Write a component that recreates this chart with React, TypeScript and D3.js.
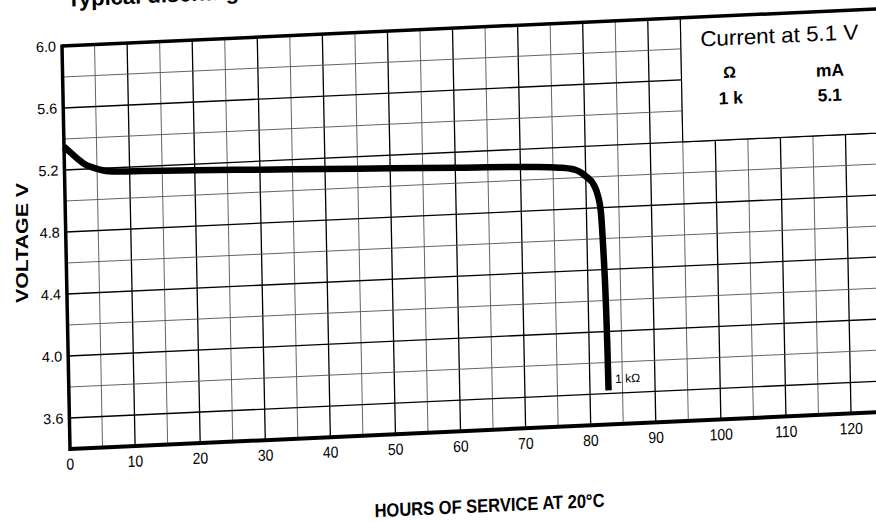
import React from "react";
import * as d3 from "d3";

// 1 kΩ discharge curve
const hours = [0, 1, 2, 3, 4.5, 6, 8, 12, 20, 30, 40, 50, 60, 70, 76, 78.5, 80.2, 81.2, 81.8, 82.2, 82.5, 82.7, 82.8, 82.85];
const volts = [5.35, 5.31, 5.27, 5.235, 5.205, 5.185, 5.175, 5.17, 5.16, 5.145, 5.13, 5.115, 5.1, 5.085, 5.07, 5.05, 5.0, 4.95, 4.88, 4.78, 4.5, 4.2, 3.9, 3.62];

const xTicks = [0, 10, 20, 30, 40, 50, 60, 70, 80, 90, 100, 110, 120];
const yTicks = ["6.0", "5.6", "5.2", "4.8", "4.4", "4.0", "3.6"];
const xGrid = d3.range(5, 130, 5);
const yGrid = d3.range(3.6, 6.0, 0.2).map((v) => +v.toFixed(1));

const legendTitle = "Current at 5.1 V";
const legendHead = ["Ω", "mA"];
const legendRow = ["1 k", "5.1"];
const curveLabel = "1 kΩ";

const font = "'Liberation Sans', Arial, Helvetica, sans-serif";

export default function App() {
  const W = 876, H = 522;
  // plot drawn flat, then skewed/rotated like the scanned page
  const x = d3.scaleLinear().domain([0, 120]).range([0, 781]);
  const y = d3.scaleLinear().domain([3.4, 6.0]).range([403, 0]);
  const xMax = x(130);

  const line = d3.line<number>()
    .x((d, i) => x(hours[i]))
    .y((d) => y(d))
    .curve(d3.curveMonotoneX);

  const isMajorY = (v: number) => Math.abs(((v - 3.6) / 0.4) - Math.round((v - 3.6) / 0.4)) < 1e-6;

  return (
    <svg width={W} height={H} style={{ position: "absolute", left: 0, top: 0, background: "#fff" }} fontFamily={font}>
      <g transform="matrix(1,-0.0455,0.0199,1,62,46)">
        <text x={6} y={-39} fontSize={22} fontWeight="bold">Typical discharge characteristics</text>

        {xGrid.map((h) => (
          <line key={"vx" + h} x1={x(h)} x2={x(h)} y1={0} y2={y(3.4)}
            stroke={h % 10 === 0 ? "#000" : "#555"} strokeWidth={h % 10 === 0 ? 1.3 : 0.9} />
        ))}
        {yGrid.map((v) => (
          <line key={"hy" + v} x1={0} x2={xMax} y1={y(v)} y2={y(v)}
            stroke={isMajorY(v) ? "#000" : "#555"} strokeWidth={isMajorY(v) ? 1.3 : 0.9} />
        ))}

        <rect x={x(95)} y={y(6.0)} width={xMax - x(95)} height={y(5.2) - y(6.0)} fill="#fff" stroke="#000" strokeWidth={1.2} />
        <text x={x(98)} y={y(5.81)} fontSize={21.5} textLength={158} lengthAdjust="spacingAndGlyphs">{legendTitle}</text>
        <text x={x(102.4)} y={y(5.6)} fontSize={16} fontWeight="bold" textAnchor="middle">{legendHead[0]}</text>
        <text x={x(117.8)} y={y(5.58)} fontSize={17.5} fontWeight="bold" textAnchor="middle">{legendHead[1]}</text>
        <text x={x(102.5)} y={y(5.43)} fontSize={17.5} fontWeight="bold" textAnchor="middle">{legendRow[0]}</text>
        <text x={x(117.7)} y={y(5.42)} fontSize={17.5} fontWeight="bold" textAnchor="middle">{legendRow[1]}</text>

        <line x1={0} x2={xMax} y1={0} y2={0} stroke="#000" strokeWidth={3.5} />
        <line x1={0} x2={xMax} y1={y(3.4)} y2={y(3.4)} stroke="#000" strokeWidth={4} />
        <line x1={0} x2={0} y1={-1.5} y2={y(3.4) + 2} stroke="#000" strokeWidth={3.5} />

        <path d={line(volts) || ""} fill="none" stroke="#000" strokeWidth={6.5} />
        <text x={x(83.9)} y={y(3.666)} fontSize={12}>{curveLabel}</text>

        {yTicks.map((t) => (
          <text key={"yt" + t} x={-6} y={y(+t)} dy="0.35em" fontSize={14.5} textAnchor="end">{t}</text>
        ))}
        {xTicks.map((t) => (
          <text key={"xt" + t} transform={`translate(${x(t)},${y(3.4) + 15}) scale(0.87,1)`} dy="0.35em" fontSize={16} textAnchor="middle">{t}</text>
        ))}

        <text x={303} y={485} fontSize={19} fontWeight="bold" textLength={230} lengthAdjust="spacingAndGlyphs">HOURS OF SERVICE AT 20°C</text>
      </g>
      <text transform="translate(28,243) rotate(-90)" fontSize={17} fontWeight="bold" textAnchor="middle" textLength={120} lengthAdjust="spacingAndGlyphs">VOLTAGE V</text>
    </svg>
  );
}
